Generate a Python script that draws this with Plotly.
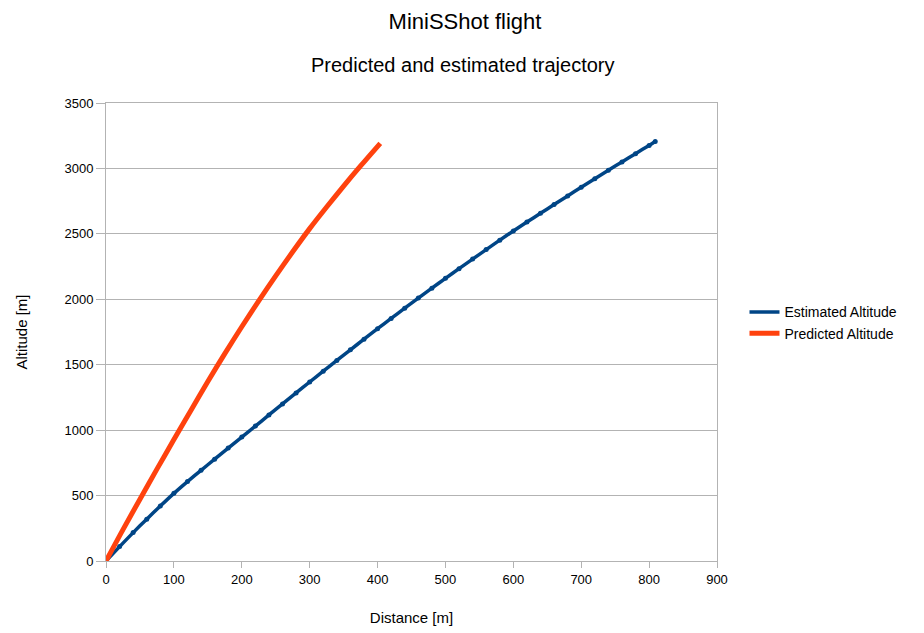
import plotly.graph_objects as go

est_distance = [0, 20, 40, 60, 80, 100, 120, 140, 160, 180, 200, 220, 240, 260, 280, 300,
                320, 340, 360, 380, 400, 420, 440, 460, 480, 500, 520, 540, 560, 580, 600,
                620, 640, 660, 680, 700, 720, 740, 760, 780, 800, 809]
est_altitude = [0, 110, 217, 320, 420, 517, 607, 693, 778, 863, 947, 1031, 1116, 1200, 1284, 1368,
                1451, 1533, 1614, 1695, 1775, 1854, 1932, 2009, 2085, 2160, 2234, 2307, 2380, 2452, 2522,
                2590, 2657, 2724, 2790, 2856, 2921, 2986, 3050, 3113, 3176, 3205]

pred_distance = [0, 25, 50, 75, 100, 125, 150, 175, 200, 225, 250, 275, 300, 325, 350, 375, 404]
pred_altitude = [0, 240, 472, 702, 928, 1150, 1372, 1585, 1790, 1988, 2179, 2363, 2540, 2705, 2865, 3019, 3192]

x_ticks = [0, 100, 200, 300, 400, 500, 600, 700, 800, 900]
y_ticks = [0, 500, 1000, 1500, 2000, 2500, 3000, 3500]

FONT = "Liberation Sans, Arial, sans-serif"
GRID = "#b3b3b3"
BLUE = "#004586"
ORANGE = "#ff420e"

fig = go.Figure()
fig.add_trace(go.Scatter(
    x=est_distance, y=est_altitude, name="Estimated Altitude",
    mode="lines", line=dict(color=BLUE, width=3.5, shape="spline", smoothing=0.6),
))
fig.add_trace(go.Scatter(
    x=est_distance, y=est_altitude, name="Estimated Altitude", showlegend=False,
    mode="markers", marker=dict(color=BLUE, size=5), hoverinfo="skip",
))
fig.add_trace(go.Scatter(
    x=pred_distance, y=pred_altitude, name="Predicted Altitude",
    mode="lines", line=dict(color=ORANGE, width=5, shape="spline", smoothing=0.8),
))

fig.update_layout(
    width=924, height=633,
    paper_bgcolor="white", plot_bgcolor="white",
    font=dict(family=FONT, color="#000000", size=13),
    margin=dict(l=98, r=215, t=95, b=80),
    title=dict(text="MiniSShot flight", x=0.4946, xanchor="center", xref="container",
               y=0.979, yanchor="middle", font=dict(size=22, family=FONT)),
    showlegend=True,
    legend=dict(x=1.045, xref="paper", xanchor="left", y=0.52, yanchor="middle",
                font=dict(size=14, family=FONT), bgcolor="rgba(0,0,0,0)",
                itemwidth=30),
    annotations=[dict(text="Predicted and estimated trajectory", xref="paper", yref="paper",
                      x=0.585, y=1.0, yshift=38, xanchor="center", yanchor="middle",
                      showarrow=False, font=dict(size=20, family=FONT))],
)
fig.update_xaxes(
    range=[0, 900], tickvals=x_ticks, ticktext=[str(v) for v in x_ticks],
    showgrid=False, zeroline=False, automargin=False,
    showline=True, linecolor=GRID, linewidth=1, mirror=True,
    ticks="outside", ticklen=6, tickcolor=GRID,
    tickfont=dict(size=13),
    title=dict(text="Distance [m]", font=dict(size=15, family=FONT), standoff=26),
)
fig.update_yaxes(
    range=[0, 3500], tickvals=y_ticks, ticktext=[str(v) for v in y_ticks],
    showgrid=True, gridcolor=GRID, gridwidth=1, zeroline=False, automargin=False,
    showline=True, linecolor=GRID, linewidth=1, mirror=True,
    ticks="outside", ticklen=9, tickcolor=GRID,
    tickfont=dict(size=13),
    title=dict(text="Altitude [m]", font=dict(size=15, family=FONT), standoff=33),
)

fig.write_html("out.html")
